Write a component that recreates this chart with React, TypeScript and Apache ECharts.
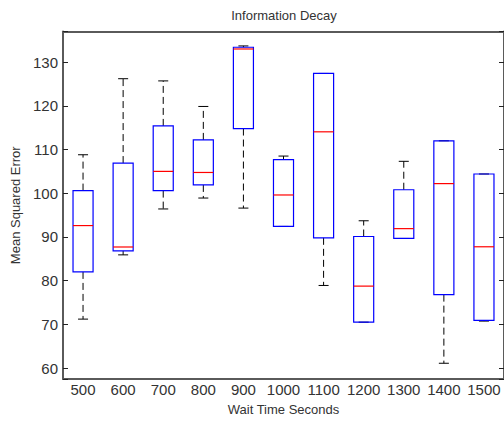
import React, { useEffect, useRef } from "react";
import * as echarts from "echarts";

const categories = ["500", "600", "700", "800", "900", "1000", "1100", "1200", "1300", "1400", "1500"];
const lowerWhisker = [71.2, 85.9, 96.4, 98.9, 96.6, 92.4, 78.9, 70.5, 89.65, 61.1, 70.75];
const quartile1 = [82.0, 86.8, 100.6, 101.9, 114.8, 92.4, 89.8, 70.5, 89.65, 76.8, 70.9];
const medians = [92.6, 87.7, 105.0, 104.75, 133.0, 99.6, 114.05, 78.75, 91.9, 102.2, 87.75];
const quartile3 = [100.6, 106.9, 115.4, 112.2, 133.4, 107.7, 127.4, 90.1, 100.8, 112.0, 104.4];
const upperWhisker = [108.8, 126.2, 125.7, 119.85, 133.7, 108.5, 127.4, 93.7, 107.3, 112.0, 104.4];

const FONT = '"Liberation Sans", Arial, sans-serif';
const AXIS_COLOR = "#5a5a5a";
const TEXT_COLOR = "#333333";

export default function App() {
  const ref = useRef<HTMLDivElement>(null);
  useEffect(() => {
    if (!ref.current) return;
    const chart = echarts.init(ref.current, undefined, { renderer: "svg" });
    const data = categories.map((_, i) => [
      i,
      lowerWhisker[i],
      quartile1[i],
      medians[i],
      quartile3[i],
      upperWhisker[i],
    ]);
    const renderItem = (params: any, api: any) => {
      const idx = api.value(0);
      const lo = api.coord([idx, api.value(1)]);
      const q1 = api.coord([idx, api.value(2)]);
      const md = api.coord([idx, api.value(3)]);
      const q3 = api.coord([idx, api.value(4)]);
      const hi = api.coord([idx, api.value(5)]);
      const band = api.size([1, 0])[0];
      const cx = q1[0];
      const bw = band * 0.5;
      const cw = band * 0.25;
      const children: any[] = [];
      const dashStyle = { stroke: "#000", lineWidth: 1, lineDash: [7, 4] };
      const solid = { stroke: "#000", lineWidth: 1 };
      if (hi[1] < q3[1] - 0.5) {
        children.push({ type: "line", shape: { x1: cx, y1: q3[1], x2: cx, y2: hi[1] }, style: dashStyle });
      }
      if (lo[1] > q1[1] + 0.5) {
        children.push({ type: "line", shape: { x1: cx, y1: q1[1], x2: cx, y2: lo[1] }, style: dashStyle });
      }
      children.push({ type: "line", shape: { x1: cx - cw / 2, y1: hi[1], x2: cx + cw / 2, y2: hi[1] }, style: solid });
      children.push({ type: "line", shape: { x1: cx - cw / 2, y1: lo[1], x2: cx + cw / 2, y2: lo[1] }, style: solid });
      children.push({
        type: "rect",
        shape: { x: cx - bw / 2, y: q3[1], width: bw, height: q1[1] - q3[1] },
        style: { fill: "none", stroke: "#0000ff", lineWidth: 1.2 },
      });
      children.push({
        type: "line",
        shape: { x1: cx - bw / 2, y1: md[1], x2: cx + bw / 2, y2: md[1] },
        style: { stroke: "#ff0000", lineWidth: 1.2 },
      });
      return { type: "group", children };
    };
    const yLabelFmt = (v: number) => (Math.abs(v % 10) < 1e-6 ? String(v) : "");
    chart.setOption({
      animation: false,
      grid: { left: 63, top: 31.5, width: 443, height: 348 },
      graphic: [
        {
          type: "text",
          x: 284,
          y: 15,
          style: {
            text: "Information Decay",
            fontSize: 13,
            fontFamily: FONT,
            fill: TEXT_COLOR,
            align: "center",
            verticalAlign: "middle",
          },
        },
      ],
      xAxis: [
        {
          type: "category",
          data: categories,
          position: "bottom",
          name: "Wait Time Seconds",
          nameLocation: "middle",
          nameGap: 24,
          nameTextStyle: { fontSize: 13, color: TEXT_COLOR, fontFamily: FONT },
          axisLine: { lineStyle: { color: AXIS_COLOR, width: 2 } },
          axisTick: { inside: true, length: 5, alignWithLabel: true, lineStyle: { color: "#222" } },
          axisLabel: { interval: 0, fontSize: 15, color: TEXT_COLOR, fontFamily: FONT, margin: 3 },
          splitLine: { show: false },
        },
        {
          type: "category",
          data: categories,
          position: "top",
          axisLine: { lineStyle: { color: AXIS_COLOR, width: 2 } },
          axisTick: { inside: true, length: 5, alignWithLabel: true, lineStyle: { color: "#222" } },
          axisLabel: { show: false },
          splitLine: { show: false },
        },
      ],
      yAxis: [
        {
          type: "value",
          min: 57.5,
          max: 137,
          splitNumber: 8,
          position: "left",
          name: "Mean Squared Error",
          nameLocation: "middle",
          nameGap: 39,
          nameTextStyle: { fontSize: 13, color: TEXT_COLOR, fontFamily: FONT },
          axisLine: { show: true, lineStyle: { color: AXIS_COLOR, width: 2 } },
          axisTick: { show: true, inside: true, length: 5, lineStyle: { color: "#222" } },
          axisLabel: { fontSize: 15, color: TEXT_COLOR, fontFamily: FONT, margin: 5, formatter: yLabelFmt },
          splitLine: { show: false },
        },
        {
          type: "value",
          min: 57.5,
          max: 137,
          splitNumber: 8,
          position: "right",
          axisLine: { show: true, lineStyle: { color: AXIS_COLOR, width: 2 } },
          axisTick: { show: true, inside: true, length: 5, lineStyle: { color: "#222" } },
          axisLabel: { show: false },
          splitLine: { show: false },
        },
      ],
      series: [
        {
          type: "custom",
          xAxisIndex: 0,
          yAxisIndex: 0,
          renderItem,
          encode: { x: 0, y: [1, 2, 3, 4, 5] },
          data,
        },
      ],
    });
    return () => chart.dispose();
  }, []);
  return (
    <div
      ref={ref}
      style={{ position: "fixed", left: 0, top: 0, width: 504, height: 421, background: "#fff" }}
    />
  );
}
